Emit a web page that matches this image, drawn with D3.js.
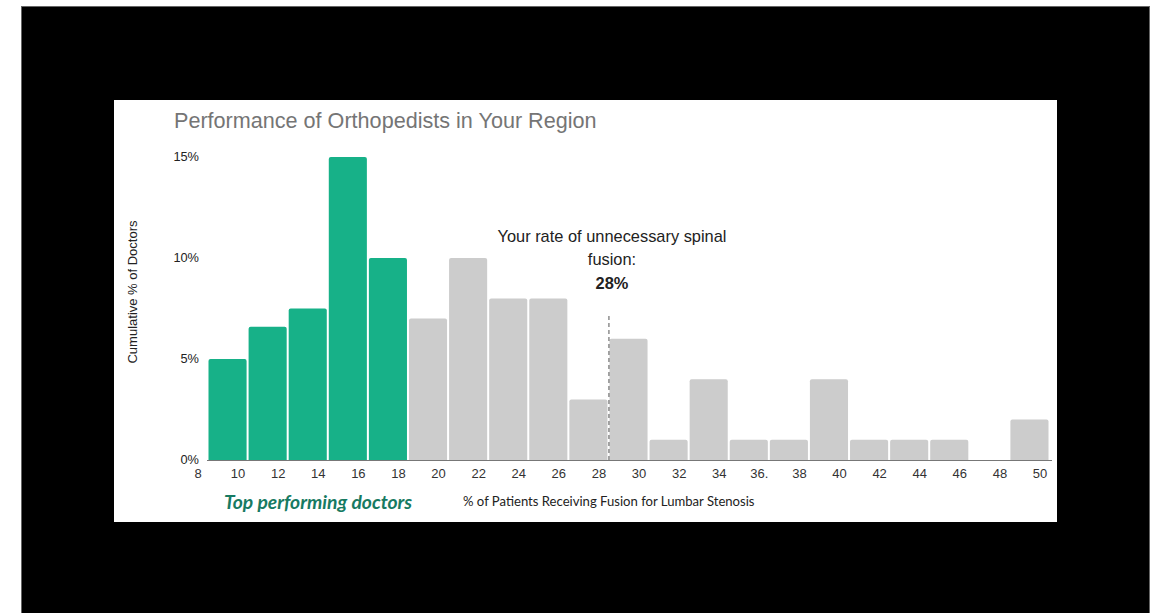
<!DOCTYPE html>
<html>
<head>
<meta charset="utf-8">
<script src="https://cdn.jsdelivr.net/npm/d3@7/dist/d3.min.js"></script>
<style>
  html, body { margin: 0; padding: 0; background: #fff; }
  svg { display: block; }
</style>
</head>
<body>
<svg id="chart" width="1152" height="613"></svg>
<script>
// Bin upper edges (% of patients receiving fusion) and share of doctors in each bin
const bins = [10, 12, 14, 16, 18, 20, 22, 24, 26, 28, 30, 32, 34, 36, 38, 40, 42, 44, 46, 48, 50];
const shares = [5, 6.6, 7.5, 15, 10, 7, 10, 8, 8, 3, 6, 1, 4, 1, 1, 4, 1, 1, 1, 0, 2];
const xTicks = [8, 10, 12, 14, 16, 18, 20, 22, 24, 26, 28, 30, 32, 34, 36, 38, 40, 42, 44, 46, 48, 50];
const xTickLabels = ["8", "10", "12", "14", "16", "18", "20", "22", "24", "26", "28", "30", "32", "34", "36.", "38", "40", "42", "44", "46", "48", "50"];
const yTicks = [0, 5, 10, 15];
const topCutoff = 18;   // bins up to here are the top performers
const yourRate = 28;

const svg = d3.select("#chart");

// dark frame and white card
svg.append("rect").attr("x", 21.5).attr("y", 6.5).attr("width", 1128).attr("height", 610)
  .attr("fill", "#000").attr("stroke", "#666").attr("stroke-width", 1);
svg.append("rect").attr("x", 114).attr("y", 100).attr("width", 943).attr("height", 422)
  .attr("fill", "#fff");

const x = d3.scaleLinear().domain([8, 50]).range([208, 1050]);
const y = d3.scaleLinear().domain([0, 15]).range([460, 157]);

// title
svg.append("text").attr("x", 174).attr("y", 128)
  .attr("font-family", "Liberation Sans, Arial, sans-serif")
  .attr("font-size", 21.6).attr("fill", "#757575")
  .text("Performance of Orthopedists in Your Region");

// y tick labels
const yAxis = d3.axisLeft(y).tickValues(yTicks).tickFormat(d => d + "%").tickSize(0).tickPadding(0);
const gy = svg.append("g").attr("transform", "translate(199,-1)").call(yAxis);
gy.select(".domain").remove();
gy.selectAll("text").attr("font-family", "Liberation Sans, Arial, sans-serif")
  .attr("font-size", 12.8).attr("fill", "#222");

// y axis title
svg.append("text")
  .attr("transform", "translate(137,292) rotate(-90)")
  .attr("text-anchor", "middle")
  .attr("font-family", "Liberation Sans, Arial, sans-serif")
  .attr("font-size", 13).attr("fill", "#222")
  .text("Cumulative % of Doctors");

// bars with rounded top corners
function barPath(x0, x1, y0, y1, r) {
  if (y0 - y1 < r) r = Math.max(0, y0 - y1);
  return `M${x0},${y0}V${y1 + r}Q${x0},${y1} ${x0 + r},${y1}H${x1 - r}Q${x1},${y1} ${x1},${y1 + r}V${y0}Z`;
}
const data = bins.map((b, i) => ({ bin: b, share: shares[i] }));
svg.append("g").selectAll("path").data(data.filter(d => d.share > 0)).join("path")
  .attr("d", d => barPath(x(d.bin - 2) + 0.5, x(d.bin) - 1.5, y(0), y(d.share), 2))
  .attr("fill", d => d.bin <= topCutoff ? "#17b188" : "#cccccc");

// x axis line
svg.append("line").attr("x1", 207).attr("x2", 1052).attr("y1", y(0) + 0.5).attr("y2", y(0) + 0.5)
  .attr("stroke", "#777").attr("stroke-width", 1);

// x tick labels
svg.append("g").selectAll("text").data(xTicks).join("text")
  .attr("x", d => x(d) - 10).attr("y", 478)
  .attr("text-anchor", "middle")
  .attr("font-family", "Liberation Sans, Arial, sans-serif")
  .attr("font-size", 13).attr("fill", "#333")
  .text((d, i) => xTickLabels[i]);

// marker for the individual's rate
svg.append("line").attr("x1", x(yourRate)).attr("x2", x(yourRate))
  .attr("y1", 316).attr("y2", y(0))
  .attr("stroke", "#555").attr("stroke-width", 1).attr("stroke-dasharray", "4,3");

const note = svg.append("text").attr("text-anchor", "middle")
  .attr("font-family", "Liberation Sans, Arial, sans-serif")
  .attr("font-size", 16.4).attr("fill", "#222");
note.append("tspan").attr("x", 612).attr("y", 242).text("Your rate of unnecessary spinal");
note.append("tspan").attr("x", 612).attr("y", 265).text("fusion:");
note.append("tspan").attr("x", 612).attr("y", 289).attr("font-weight", "bold").text(yourRate + "%");

// bottom captions
svg.append("text").attr("x", 224).attr("y", 509)
  .attr("font-family", "Lato, sans-serif").attr("font-style", "italic").attr("font-weight", "bold")
  .attr("font-size", 19.3).attr("fill", "#177a62")
  .text("Top performing doctors");
svg.append("text").attr("x", 463).attr("y", 506)
  .attr("font-family", "Lato, sans-serif")
  .attr("font-size", 13.1).attr("fill", "#222")
  .text("% of Patients Receiving Fusion for Lumbar Stenosis");
</script>
</body>
</html>
